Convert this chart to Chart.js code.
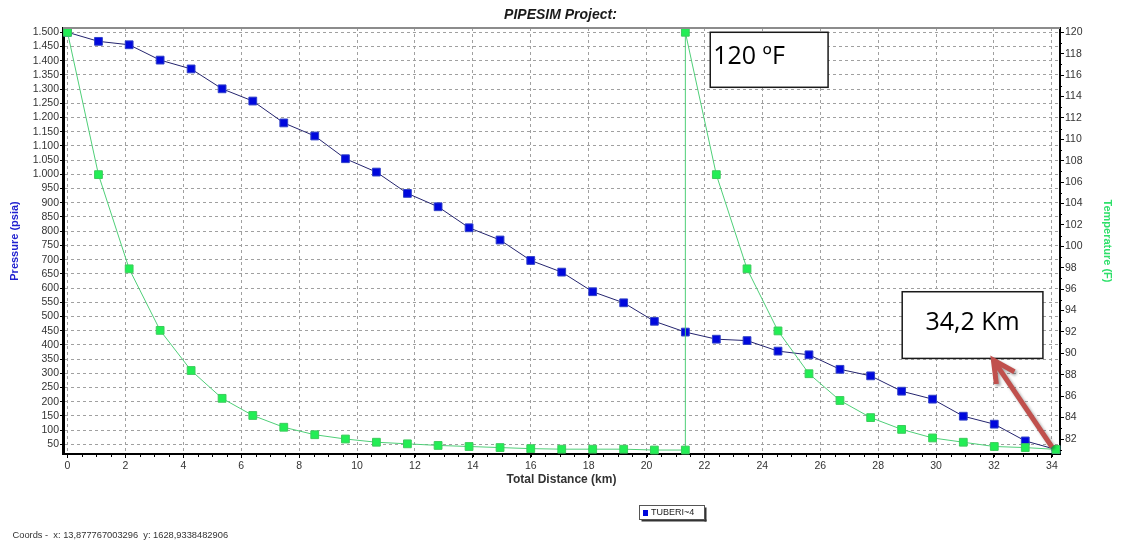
<!DOCTYPE html>
<html>
<head>
<meta charset="utf-8">
<script src="https://cdn.jsdelivr.net/npm/chart.js@4.4.0/dist/chart.umd.min.js"></script>
<style>
  html, body { margin: 0; padding: 0; background: #fff; }
</style>
</head>
<body>
<canvas id="pipeChart" width="1121" height="543"></canvas>
<script>
// --- DATI DEL PROFILO (distanza in km) ---
const distance = [0, 1.07, 2.13, 3.2, 4.27, 5.34, 6.4, 7.47, 8.54, 9.6, 10.67, 11.74, 12.8, 13.87, 14.94, 16.0, 17.07,
    18.14, 19.21, 20.27, 21.34, 22.41, 23.47, 24.54, 25.61, 26.68, 27.74, 28.81, 29.88, 30.94, 32.01, 33.08, 34.14];
const pressure = [1500, 1468, 1456, 1402, 1371, 1301, 1258, 1181, 1135, 1055, 1008, 933, 886, 812, 769, 697, 656,
    587, 548, 483, 445, 420, 415, 378, 365, 314, 291, 237, 209, 149, 121, 62, 32];

// la temperatura ha due punti a 21,34 km (riscaldatore)
const tempDistance = [0, 1.07, 2.13, 3.2, 4.27, 5.34, 6.4, 7.47, 8.54, 9.6, 10.67, 11.74, 12.8, 13.87, 14.94, 16.0, 17.07,
    18.14, 19.21, 20.27, 21.34, 21.34, 22.41, 23.47, 24.54, 25.61, 26.68, 27.74, 28.81, 29.88, 30.94, 32.01, 33.08, 34.14];
const temperature = [120, 106.7, 97.9, 92.15, 88.4, 85.8, 84.2, 83.1, 82.4, 82.0, 81.7, 81.55, 81.4, 81.3, 81.2, 81.1, 81.05,
    81.05, 81.05, 80.97, 80.97, 120, 106.7, 97.9, 92.1, 88.1, 85.6, 84.0, 82.9, 82.1, 81.7, 81.3, 81.2, 81.03];

const distanceTicks = [0, 2, 4, 6, 8, 10, 12, 14, 16, 18, 20, 22, 24, 26, 28, 30, 32, 34];
const pressureTicks = [50, 100, 150, 200, 250, 300, 350, 400, 450, 500, 550, 600, 650, 700, 750, 800, 850, 900, 950,
    1000, 1050, 1100, 1150, 1200, 1250, 1300, 1350, 1400, 1450, 1500];
const temperatureTicks = [82, 84, 86, 88, 90, 92, 94, 96, 98, 100, 102, 104, 106, 108, 110, 112, 114, 116, 118, 120];

const FONT = "'Liberation Sans', Arial, sans-serif";

// note sul grafico (in km / °F sull'asse destro)
const notes = [
    { text: '120 ºF', from: 22.2, to: 26.27, top: 120, bottom: 114.86, align: 'left' },
    { text: '34,2 Km', from: 28.83, to: 33.69, top: 95.76, bottom: 89.53, align: 'center' }
];
const arrow = { fromX: 34.0, fromT: 81.27, toX: 31.98, toT: 89.37 };

const toXY = (xs, ys) => xs.map((x, i) => ({ x: x, y: ys[i] }));
const fmtThousands = v => String(v).replace(/\B(?=(\d{3})+(?!\d))/g, '.');

// --- DECORAZIONI: bordo, tacche minori, note, freccia, legenda ---
const decorPlugin = {
    id: 'decor',
    afterDraw(chart) {
        const { ctx, chartArea: a, scales: { x, y1 } } = chart;
        ctx.save();

        // bordo superiore grigio
        ctx.strokeStyle = '#8c8c8c';
        ctx.lineWidth = 2;
        ctx.beginPath();
        ctx.moveTo(a.left, a.top);
        ctx.lineTo(a.right, a.top);
        ctx.stroke();

        // tacche minori asse x (ogni 0,5 km) e asse destro (gradi dispari)
        ctx.strokeStyle = '#000';
        ctx.lineWidth = 1;
        ctx.beginPath();
        for (let k = 0; k <= x.max; k += 0.5) {
            const px = Math.round(x.getPixelForValue(k)) + 0.5;
            ctx.moveTo(px, a.bottom);
            ctx.lineTo(px, a.bottom + 3);
        }
        for (let t = Math.ceil(y1.min); t <= y1.max; t++) {
            if (t % 2 === 0) continue;
            const py = Math.round(y1.getPixelForValue(t)) + 0.5;
            ctx.moveTo(a.right, py);
            ctx.lineTo(a.right + 2, py);
        }
        ctx.stroke();

        // riquadri di testo
        notes.forEach(n => {
            const l = x.getPixelForValue(n.from), r = x.getPixelForValue(n.to);
            const t = y1.getPixelForValue(n.top), b = y1.getPixelForValue(n.bottom);
            ctx.fillStyle = '#fff';
            ctx.fillRect(l, t, r - l, b - t);
            ctx.strokeStyle = '#1a1a1a';
            ctx.lineWidth = 1.5;
            ctx.strokeRect(l, t, r - l, b - t);
            ctx.fillStyle = '#000';
            ctx.font = "25px 'Open Sans', " + FONT;
            ctx.textBaseline = 'alphabetic';
            ctx.textAlign = n.align;
            const tx = n.align === 'left' ? l + 3 : (l + r) / 2;
            ctx.fillText(n.text, tx, t + (b - t) * 0.58);
        });

        // freccia rossa
        const x0 = x.getPixelForValue(arrow.fromX), yA = y1.getPixelForValue(arrow.fromT);
        const x1 = x.getPixelForValue(arrow.toX), yB = y1.getPixelForValue(arrow.toT);
        const ang = Math.atan2(yB - yA, x1 - x0);
        const head = 24, spread = 0.47;
        ctx.shadowColor = 'rgba(0,0,0,0.35)';
        ctx.shadowBlur = 3;
        ctx.shadowOffsetX = 2;
        ctx.shadowOffsetY = 2;
        ctx.strokeStyle = '#c0504d';
        ctx.lineWidth = 5;
        ctx.lineJoin = 'miter';
        ctx.beginPath();
        ctx.moveTo(x0, yA);
        ctx.lineTo(x1, yB);
        ctx.moveTo(x1 - head * Math.cos(ang - spread), yB - head * Math.sin(ang - spread));
        ctx.lineTo(x1, yB);
        ctx.lineTo(x1 - head * Math.cos(ang + spread), yB - head * Math.sin(ang + spread));
        ctx.stroke();
        ctx.shadowColor = 'transparent';

        // legenda
        ctx.fillStyle = '#333';
        ctx.fillRect(641.5, 519.5, 65, 2);
        ctx.fillRect(704.5, 507.5, 2, 14);
        ctx.fillStyle = '#fff';
        ctx.fillRect(639.5, 505.5, 65, 14);
        ctx.strokeStyle = '#555';
        ctx.lineWidth = 1;
        ctx.strokeRect(639.5, 505.5, 65, 14);
        ctx.fillStyle = '#0008dd';
        ctx.fillRect(643, 510, 5, 6);
        ctx.fillStyle = '#222';
        ctx.font = '9px ' + FONT;
        ctx.textAlign = 'left';
        ctx.textBaseline = 'middle';
        ctx.fillText('TUBERI~4', 651, 513);

        // coordinate del cursore
        ctx.fillStyle = '#333';
        ctx.font = '9.3px ' + FONT;
        ctx.textBaseline = 'alphabetic';
        ctx.fillText('Coords -  x: 13,877767003296  y: 1628,9338482906', 12.5, 538);

        ctx.restore();
    }
};

const gridDash = { color: '#a0a0a0', lineWidth: 1 };

const ctx = document.getElementById('pipeChart').getContext('2d');
const pipeChart = new Chart(ctx, {
    type: 'line',
    data: {
        datasets: [
            {
                label: 'Temperature',
                data: toXY(tempDistance, temperature),
                yAxisID: 'y1',
                borderColor: '#4fcf78',
                borderWidth: 1,
                backgroundColor: '#22ee55',
                pointBackgroundColor: '#22ee55',
                pointBorderColor: '#3ccc5c',
                pointBorderWidth: 1,
                pointStyle: 'rect',
                pointRadius: 5.5,
                tension: 0,
                clip: false
            },
            {
                label: 'TUBERI~4',
                data: toXY(distance, pressure),
                yAxisID: 'y',
                borderColor: '#24246e',
                borderWidth: 1,
                backgroundColor: '#0008dd',
                pointBackgroundColor: '#0008dd',
                pointBorderColor: '#3040c8',
                pointBorderWidth: 1,
                pointStyle: 'rect',
                pointRadius: 5.5,
                tension: 0,
                clip: false
            }
        ]
    },
    options: {
        responsive: false,
        animation: false,
        devicePixelRatio: 1,
        events: [],
        layout: { padding: 0 },
        plugins: {
            legend: { display: false },
            tooltip: { enabled: false },
            title: {
                display: true,
                text: 'PIPESIM Project:',
                color: '#1a1a1a',
                font: { family: FONT, size: 14, weight: 'bold', style: 'italic', lineHeight: 1.2 },
                padding: { top: 6.5, bottom: 4.7 }
            }
        },
        scales: {
            x: {
                type: 'linear',
                position: 'bottom',
                min: -0.155,
                max: 34.28,
                afterFit(scale) { scale.height = 89; },
                afterBuildTicks(scale) { scale.ticks = distanceTicks.map(v => ({ value: v })); },
                ticks: { color: '#333', font: { family: FONT, size: 10.5 }, padding: 2, maxRotation: 0, autoSkip: false },
                grid: { ...gridDash, tickColor: '#000', tickLength: 4, tickBorderDash: [] },
                border: { display: true, color: '#000', width: 2, dash: [3, 3] },
                title: {
                    display: true,
                    text: 'Total Distance (km)',
                    color: '#333',
                    font: { family: FONT, size: 12, weight: 'bold' },
                    padding: { top: 0, bottom: 55.8 }
                }
            },
            y: {
                type: 'linear',
                position: 'left',
                min: 16,
                max: 1515,
                afterFit(scale) { scale.width = 63; },
                afterBuildTicks(scale) { scale.ticks = pressureTicks.map(v => ({ value: v })); },
                ticks: { color: '#333', font: { family: FONT, size: 10.5 }, padding: 1, autoSkip: false, callback: v => fmtThousands(v) },
                grid: { ...gridDash, tickColor: '#000', tickLength: 3, tickBorderDash: [] },
                border: { display: true, color: '#000', width: 3, dash: [3, 3] },
                title: {
                    display: true,
                    text: 'Pressure (psia)',
                    color: '#1f1fcf',
                    font: { family: FONT, size: 11, weight: 'bold' },
                    padding: { top: 8.7, bottom: 0 }
                }
            },
            y1: {
                type: 'linear',
                position: 'right',
                min: 80.6,
                max: 120.4,
                afterFit(scale) { scale.width = 61; },
                afterBuildTicks(scale) { scale.ticks = temperatureTicks.map(v => ({ value: v })); },
                ticks: { color: '#333', font: { family: FONT, size: 10.5 }, padding: 1, autoSkip: false },
                grid: { drawOnChartArea: false, tickColor: '#000', tickLength: 4 },
                border: { display: true, color: '#000', width: 2 },
                title: {
                    display: true,
                    text: 'Temperature (F)',
                    color: '#2ee06a',
                    font: { family: FONT, size: 11, weight: 'bold' },
                    padding: { top: 7.7, bottom: 0 }
                }
            }
        }
    },
    plugins: [decorPlugin]
});
</script>
</body>
</html>
